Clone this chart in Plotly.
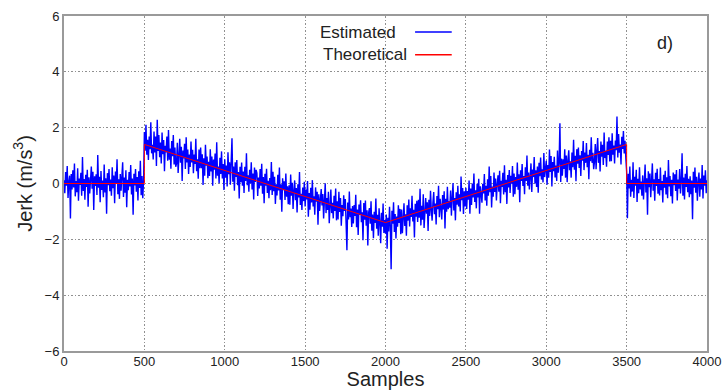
import numpy as np
import plotly.graph_objects as go

# Sample index step of the estimated signal (read every 5 samples)
sample_step = 5
n_samples_max = 4000

# Estimated jerk (m/s^3), every 5 samples, 0..4000
estimated = [
    # 0-95
    0.12,-0.35,0.41,-0.08,0.63,-0.52,0.05,0.28,-1.25,0.34,-0.21,0.47,-0.14,0.72,-0.46,0.09,-0.31,0.55,-0.62,0.18,
    # 100-195
    -0.05,0.38,-0.44,0.95,-0.27,0.16,-0.58,0.31,-0.12,0.49,-0.83,0.22,-0.36,0.07,0.61,-0.19,0.42,-0.95,0.26,-0.09,
    # 200-295
    0.33,-0.41,1.02,-0.15,0.24,-0.67,0.45,-0.23,0.11,-0.49,0.68,-0.32,0.19,-1.08,0.37,-0.06,0.52,-0.28,0.14,-0.44,
    # 300-395
    0.58,-0.17,0.29,-0.71,0.43,-0.02,0.87,-0.38,0.15,-0.55,0.34,-0.26,0.09,0.76,-0.48,0.21,-0.33,0.47,-0.85,0.13,
    # 400-495
    -0.24,0.41,-0.11,0.66,-0.39,0.18,-1.12,0.35,-0.07,0.52,-0.29,0.23,-0.61,0.44,-0.16,0.81,-0.42,0.27,-0.53,0.10,
    # 500-595
    1.84,1.17,2.10,1.03,1.57,0.84,1.68,1.23,2.19,1.08,1.39,0.86,1.86,1.11,1.68,0.63,2.28,1.17,1.74,0.94,
    # 600-695
    1.47,0.72,1.83,1.05,1.56,0.44,1.35,1.11,1.68,0.82,1.92,0.85,1.25,0.53,1.52,0.98,1.74,0.68,1.29,0.60,
    # 700-795
    0.71,1.46,0.38,1.14,1.60,0.74,1.32,0.09,1.18,0.90,1.42,0.52,1.66,0.75,1.22,0.34,1.04,0.59,1.50,0.75,
    # 800-895
    1.21,0.37,1.04,0.70,1.60,0.44,0.87,0.17,1.22,0.55,1.29,0.55,1.05,-0.05,0.90,0.28,1.39,0.64,0.97,0.19,
    # 900-995
    0.78,0.27,1.23,0.43,0.97,-0.08,0.86,0.49,1.07,0.18,1.48,0.28,0.61,0.01,0.92,0.34,1.15,0.18,0.70,-0.23,
    # 1000-1095
    0.87,0.21,0.64,-0.11,1.12,0.33,0.76,-0.04,0.54,1.62,0.06,0.61,-0.26,0.76,0.23,0.84,-0.06,0.41,-0.54,0.60,
    # 1100-1195
    0.05,0.75,-0.08,0.43,-0.34,0.60,0.09,1.08,-0.06,0.29,-0.29,0.49,0.00,0.76,-0.21,0.36,-0.57,0.57,0.06,0.49,
    # 1200-1295
    0.37,-0.45,0.21,-0.18,0.52,-0.08,0.71,-0.37,0.23,-0.71,0.35,-0.08,0.53,-0.34,0.10,-0.53,0.20,-0.24,0.77,-0.41,
    # 1300-1395
    0.42,-0.28,0.24,-0.73,-0.03,-0.43,0.31,-0.25,0.57,-0.58,-0.03,-1.01,0.19,-0.24,0.08,-0.59,0.36,-0.47,-0.10,-0.74,
    # 1400-1495
    -0.06,-0.76,0.32,-0.44,0.03,-0.91,-0.24,0.11,-0.60,-0.16,-1.04,-0.03,-0.50,0.41,-0.77,-0.37,-0.95,-0.14,-0.63,0.06,
    # 1500-1595
    -0.82,-0.22,-0.57,0.09,-1.19,-0.34,-0.94,-0.15,-0.68,0.12,-0.82,-0.46,-1.12,-0.14,-0.65,-0.30,-1.48,-0.39,-0.98,-0.46,
    # 1600-1695
    -0.20,-0.79,-0.38,-1.25,-0.58,0.01,-1.06,-0.52,-0.95,-0.30,-1.42,-0.61,-0.22,-1.06,-0.69,-1.25,-0.44,-0.98,-0.18,-1.32,
    # 1700-1795
    -0.64,-1.29,-0.30,-1.02,-0.52,-1.51,-0.77,-1.17,-0.42,-0.98,-0.56,-1.45,-2.39,-0.68,-1.29,-0.29,-1.21,-0.90,-1.56,-0.81,
    # 1800-1895
    -1.43,-0.77,-1.16,-0.40,-1.57,-0.93,-1.84,-0.75,-1.13,-0.60,-1.39,-1.03,-2.03,-0.70,-1.30,-0.61,-1.51,-0.96,-2.22,-1.04,
    # 1900-1995
    -0.88,-1.44,-0.64,-1.69,-1.11,-1.96,-1.01,-1.41,-0.54,-1.62,-1.12,-1.87,-0.89,-1.39,-2.14,-1.05,-1.55,-0.72,-1.77,-1.31,
    # 2000-2095
    -1.80,-1.11,-2.34,-1.23,-1.72,-0.83,-1.53,-3.07,-0.98,-1.44,-0.67,-1.74,-1.09,-1.97,-1.18,-1.55,-0.78,-1.41,-0.91,-1.82,
    # 2100-2195
    -0.93,-1.78,-1.06,-0.71,-1.52,-1.10,-1.87,-0.78,-1.33,-0.57,-1.54,-0.89,-1.20,-0.44,-1.36,-0.94,-1.93,-0.73,-1.19,-0.62,
    # 2200-2295
    -1.38,-0.58,-1.23,-0.19,-1.50,-0.80,-1.30,-0.39,-1.59,-0.88,-0.52,-1.08,-0.67,-1.70,-0.58,-1.16,-0.26,-0.95,-1.33,-0.69,
    # 2300-2395
    -0.31,-1.10,-0.72,-1.47,-0.45,-0.92,-0.08,-1.21,-0.55,-0.87,-1.29,-0.41,-0.93,-0.28,-1.61,-0.55,-1.01,-0.12,-0.92,-0.63,
    # 2400-2495
    -0.87,-0.25,-1.15,-0.50,0.02,-0.97,-0.52,-1.32,-0.31,-0.76,-0.08,-0.82,-0.39,-1.00,0.25,-0.60,-0.16,-1.09,-0.28,-0.82,
    # 2500-2595
    -0.15,-0.91,-0.27,-0.58,0.11,-1.08,-0.18,-0.77,0.00,-0.50,0.36,-0.66,-0.24,-0.89,-0.01,-0.50,0.17,-1.08,-0.10,-0.36,
    # 2600-2695
    -0.69,-0.01,-0.36,0.34,-0.61,-0.08,-0.80,0.15,-0.44,0.61,-0.31,0.27,-0.86,-0.11,-0.47,0.39,-0.30,0.18,-0.61,-0.03,
    # 2700-2795
    0.29,-0.29,0.46,-0.71,0.10,-0.12,0.38,-0.39,0.65,-0.31,0.13,-0.73,0.30,-0.14,0.48,-0.34,0.28,-0.01,0.63,-0.47,
    # 2800-2895
    0.36,-0.38,0.23,-0.12,0.75,-0.22,0.33,-0.67,0.47,0.09,0.70,-0.09,0.27,-0.38,0.58,0.09,1.00,-0.08,0.39,-0.21,
    # 2900-2995
    0.12,0.72,-0.30,0.50,0.23,0.95,0.00,0.47,-0.12,0.61,-0.33,0.74,0.26,0.93,0.14,0.51,0.04,1.09,0.23,0.73,
    # 3000-3095
    0.81,-0.04,0.66,0.21,1.22,0.41,0.98,-0.11,0.77,0.44,0.96,0.22,0.64,0.09,1.18,0.39,0.75,2.16,0.05,0.89,
    # 3100-3195
    0.28,0.87,0.52,1.23,0.21,1.00,0.05,0.83,1.19,0.48,0.80,0.21,1.11,0.58,1.57,0.49,0.99,0.08,1.23,0.71,
    # 3200-3295
    1.29,0.56,1.01,0.27,1.16,0.82,1.52,0.48,1.11,0.74,1.45,0.58,1.03,0.15,1.21,0.80,1.66,0.74,1.10,0.51,
    # 3300-3395
    0.78,1.41,0.51,1.18,1.63,0.74,1.16,0.43,1.50,0.96,1.39,0.66,1.83,0.91,1.17,0.60,1.50,1.02,1.66,0.79,
    # 3400-3495
    1.53,0.80,1.80,1.03,1.36,0.72,1.54,1.19,2.40,0.93,1.77,1.10,1.40,0.68,1.67,1.24,1.88,1.08,1.53,0.91,
    # 3500-3595
    0.42,-1.24,0.35,-0.18,0.61,-0.47,0.13,-0.29,0.76,-0.52,0.24,-0.08,0.49,-0.66,0.17,-0.35,0.58,-0.21,0.07,-0.44,
    # 3600-3695
    0.29,-0.57,0.11,0.68,-0.32,0.19,-1.12,0.44,-0.13,0.36,-0.49,0.05,0.72,-0.26,0.15,-0.62,0.38,-0.09,0.53,-0.37,
    # 3700-3795
    0.16,-0.43,0.57,-0.24,0.09,-0.68,0.31,-0.15,0.46,-0.39,0.22,-0.53,0.84,-0.11,0.27,-0.46,0.13,-0.72,0.39,-0.06,
    # 3800-3895
    0.33,-0.27,0.48,-0.61,0.14,-0.19,0.52,-0.36,0.08,1.08,-0.44,0.21,-0.57,0.35,-0.12,0.63,-0.31,0.17,-0.49,0.26,
    # 3900-3995
    -0.38,0.11,-1.28,0.42,-0.15,0.57,-0.33,0.24,-0.62,0.05,0.39,-0.47,0.18,-0.21,0.66,-0.54,0.29,-0.08,0.47,-0.35,
    # 4000
    0.12,
]
samples = list(range(0, n_samples_max + 1, sample_step))

# Theoretical jerk: vertices of the piecewise-linear red line
theory_x = [0, 500, 500, 2000, 3500, 3500, 4000]
theory_y = [0.0, 0.0, 1.4, -1.4, 1.4, 0.0, 0.0]

x_ticks = [0, 500, 1000, 1500, 2000, 2500, 3000, 3500, 4000]
y_ticks = [-6, -4, -2, 0, 2, 4, 6]

legend_labels = ["Estimated", "Theoretical"]
line_colors = ["#0000FF", "#FF0000"]

FONT = "Arial, 'Liberation Sans', sans-serif"

fig = go.Figure()
fig.add_trace(go.Scatter(x=samples, y=estimated, mode="lines",
                         line=dict(color=line_colors[0], width=1.4),
                         name=legend_labels[0], showlegend=False))
fig.add_trace(go.Scatter(x=theory_x, y=theory_y, mode="lines",
                         line=dict(color=line_colors[1], width=1),
                         name=legend_labels[1], showlegend=False))

axis_common = dict(
    showline=True, linecolor="#9a9a9a", linewidth=2, mirror=True,
    showgrid=True, gridcolor="#909090", griddash="1.5px,2px", gridwidth=1,
    zeroline=False, ticks="", tickfont=dict(family=FONT, size=13, color="#222"),
)

fig.update_layout(
    width=725, height=390,
    margin=dict(l=64, r=18, t=16, b=39),
    paper_bgcolor="white", plot_bgcolor="white",
    font=dict(family=FONT, color="#222"),
    xaxis=dict(range=[0, 4000], tickvals=x_ticks, automargin=False, ticklabelstandoff=-3,
               title=dict(text="Samples", font=dict(family=FONT, size=20, color="#222"), standoff=0),
               **axis_common),
    yaxis=dict(range=[-6, 6], tickvals=y_ticks, automargin=False,
               title=dict(text="Jerk (m/s<sup>3</sup>)", font=dict(family=FONT, size=20, color="#222"), standoff=7),
               **axis_common),
)

# Matlab-style legend: label then line sample
leg_y = [0.952, 0.884]
leg_text_x = [0.395, 0.400]
for i in range(2):
    fig.add_annotation(xref="paper", yref="paper", x=leg_text_x[i], y=leg_y[i],
                       text=legend_labels[i], showarrow=False, xanchor="left", yanchor="middle",
                       font=dict(family=FONT, size=17, color="#222"))
    fig.add_shape(type="line", xref="paper", yref="paper", x0=0.546, x1=0.603,
                  y0=leg_y[i], y1=leg_y[i], line=dict(color=line_colors[i], width=1.5))

fig.add_annotation(xref="paper", yref="paper", x=0.935, y=0.919, text="d)", showarrow=False,
                   xanchor="center", yanchor="middle", font=dict(family=FONT, size=18, color="#222"))

fig.write_html("out.html")
